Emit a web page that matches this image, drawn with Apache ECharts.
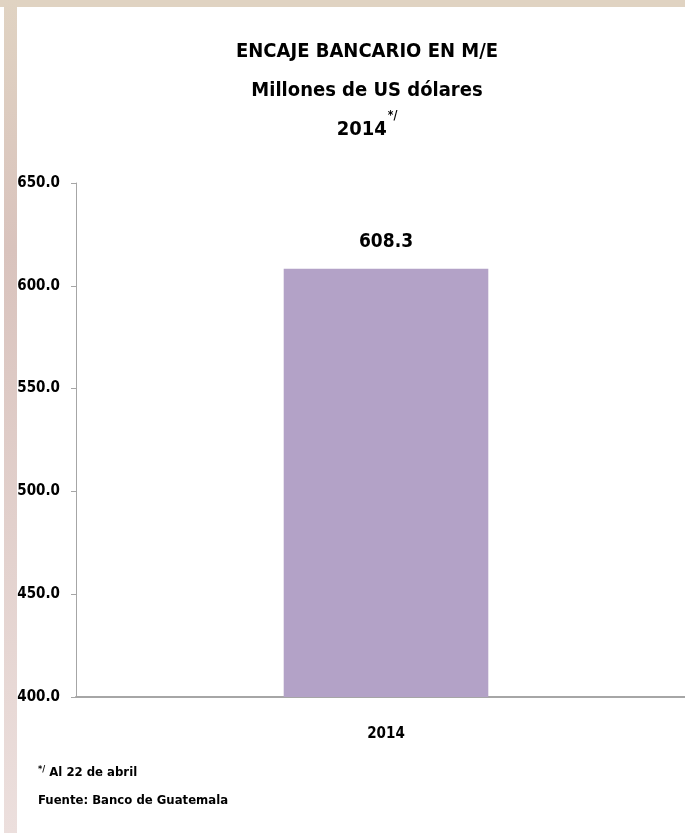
<!DOCTYPE html>
<html>
<head>
<meta charset="utf-8">
<script src="https://cdn.jsdelivr.net/npm/echarts@6/dist/echarts.min.js"></script>
<style>
  html, body { margin: 0; padding: 0; background: #fff; }
  #chart { width: 685px; height: 833px; }
</style>
</head>
<body>
<div id="chart"></div>
<script>
// datos del gráfico
var categorias = ['2014'];
var encaje = [608.3];
var ticksY = [400, 450, 500, 550, 600, 650];

var fuente = '"DejaVu Sans Condensed", "Liberation Sans Narrow", sans-serif';
var chart = echarts.init(document.getElementById('chart'));

var option = {
    backgroundColor: '#ffffff',
    animation: false,
    title: {
        text: 'ENCAJE BANCARIO EN M/E\nMillones de US dólares\n2014{sup|*/}',
        left: 362,
        top: 27,
        textAlign: 'center',
        textStyle: {
            fontFamily: fuente,
            fontSize: 20,
            fontWeight: 'bold',
            color: '#000',
            lineHeight: 39,
            rich: {
                sup: { fontSize: 12, fontWeight: 'bold', fontFamily: fuente, verticalAlign: 'top', padding: [0, 0, 10, 1] }
            }
        }
    },
    grid: { left: 76, top: 183, width: 620, height: 514, outerBoundsMode: 'none' },
    xAxis: {
        type: 'category',
        data: categorias,
        axisLine: { lineStyle: { color: '#a6a6a6', width: 2 } },
        axisTick: { show: false },
        axisLabel: {
            fontFamily: fuente, fontSize: 15, fontWeight: 'bold', color: '#000', margin: 30
        }
    },
    yAxis: {
        type: 'value',
        min: ticksY[0],
        max: ticksY[ticksY.length - 1],
        interval: 50,
        splitLine: { show: false },
        axisLine: { show: true, lineStyle: { color: '#a6a6a6', width: 1 } },
        axisTick: { show: true, length: 5, lineStyle: { color: '#a6a6a6' } },
        axisLabel: {
            fontFamily: fuente, fontSize: 15, fontWeight: 'bold', color: '#000', margin: 16,
            formatter: function (v) { return v.toFixed(1); }
        }
    },
    series: [{
        type: 'bar',
        data: encaje,
        barWidth: '33%',
        itemStyle: { color: '#b3a2c7' },
        label: {
            show: true,
            position: 'top',
            distance: 17,
            fontFamily: fuente, fontSize: 19, fontWeight: 'bold', color: '#000',
            formatter: function (p) { return p.value.toFixed(1); }
        }
    }],
    graphic: [
        // marco de la diapositiva
        { type: 'rect', shape: { x: 0, y: 0, width: 685, height: 7 }, style: { fill: '#e0d3c2' }, silent: true },
        {
            type: 'rect', shape: { x: 4, y: 0, width: 13, height: 833 }, silent: true,
            style: {
                fill: new echarts.graphic.LinearGradient(0, 0, 0, 1, [
                    { offset: 0, color: '#e0d3c2' },
                    { offset: 0.3, color: '#d9c3bd' },
                    { offset: 1, color: '#ecdfdd' }
                ])
            }
        },
        {
            type: 'text', left: 38, top: 765, silent: true,
            style: {
                text: '{sup|*/} Al 22 de abril',
                font: 'bold 13px ' + fuente, fill: '#000',
                rich: { sup: { fontSize: 9, fontWeight: 'bold', fontFamily: fuente, verticalAlign: 'top', padding: [0, 0, 6, 0] } }
            }
        },
        {
            type: 'text', left: 38, top: 794, silent: true,
            style: { text: 'Fuente: Banco de Guatemala', font: 'bold 13px ' + fuente, fill: '#000' }
        }
    ]
};

chart.setOption(option);
</script>
</body>
</html>
